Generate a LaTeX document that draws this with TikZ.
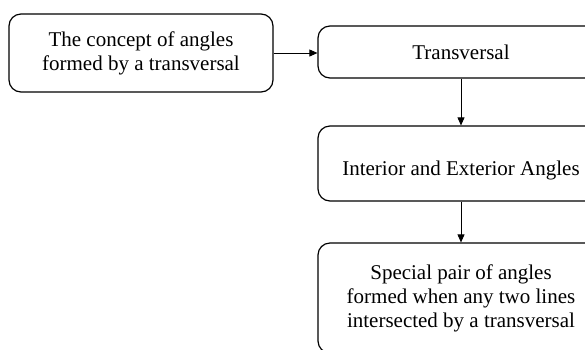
\documentclass[tikz,border=0pt]{standalone}
\usepackage{fontspec}
\setmainfont{Liberation Serif}
\usetikzlibrary{arrows.meta}
\begin{document}
\begin{tikzpicture}[x=1pt,y=-1pt,
  box/.style={draw, rounded corners=12pt, line width=1.2pt, align=center,
    font=\fontsize{21}{24}\selectfont, inner sep=0pt},
  link/.style={-{Triangle[length=8pt,width=7pt]}, line width=0.8pt}]
\useasboundingbox (0,0) rectangle (585,349);
\clip (0,0) rectangle (585,349);
% flow of concepts
\node[box, minimum width=264pt, minimum height=78pt] (a) at (141,53)
  {The concept of angles\\formed by a transversal};
\node[box, minimum width=286pt, minimum height=52pt] (b) at (461,52)
  {Transversal};
\node[box, minimum width=286pt, minimum height=75pt] (c) at (461,163.5)
  {\raisebox{-7pt}[\height][\depth]{Interior and Exterior Angles}};
\node[box, minimum width=286pt, minimum height=110pt] (d) at (461,298)
  {Special pair of angles\\formed when any two lines\\intersected by a transversal};
% connectors
\draw[link] (a.east) -- (a.east -| b.west);
\draw[link] (b.south) -- (c.north);
\draw[link] (c.south) -- (d.north);
\end{tikzpicture}
\end{document}
